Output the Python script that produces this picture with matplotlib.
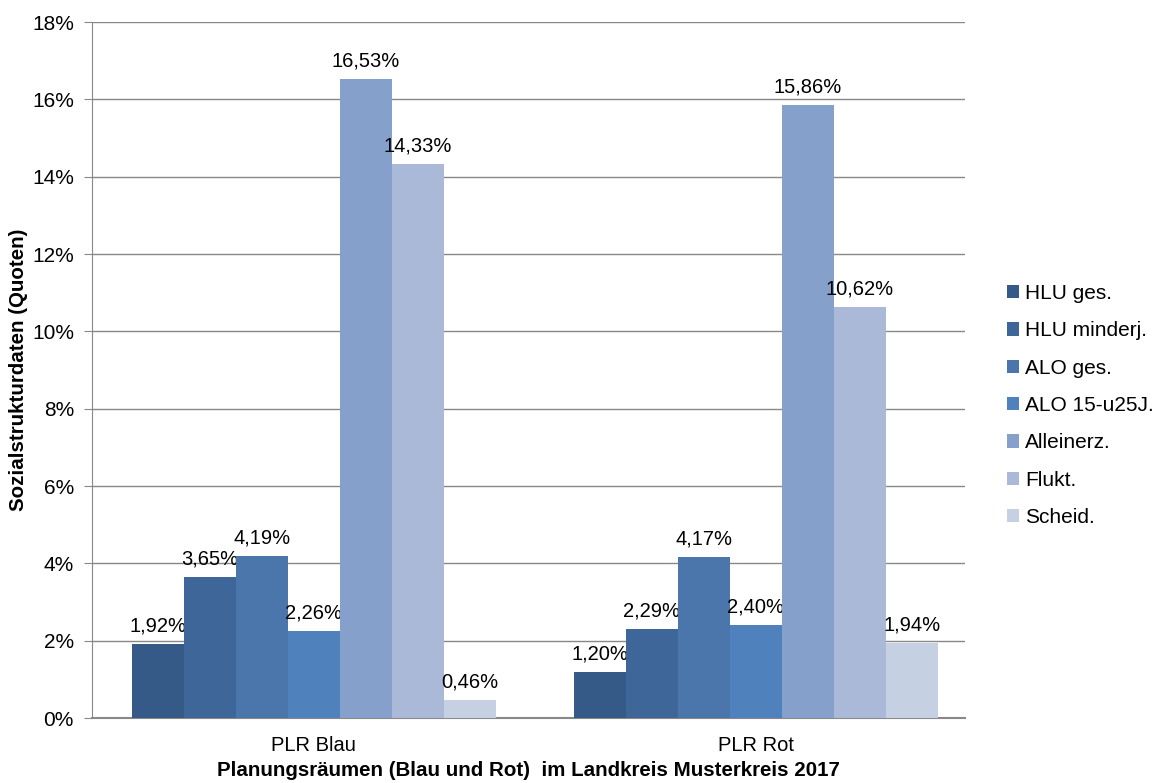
import numpy as np
import matplotlib.pyplot as plt
from matplotlib.ticker import FuncFormatter

plt.rcParams['font.family'] = ['Liberation Sans', 'DejaVu Sans']

# data
categories = ['PLR Blau', 'PLR Rot']
series = ['HLU ges.', 'HLU minderj.', 'ALO ges.', 'ALO 15-u25J.', 'Alleinerz.', 'Flukt.', 'Scheid.']
values = {
    'HLU ges.': [1.92, 1.20],
    'HLU minderj.': [3.65, 2.29],
    'ALO ges.': [4.19, 4.17],
    'ALO 15-u25J.': [2.26, 2.40],
    'Alleinerz.': [16.53, 15.86],
    'Flukt.': [14.33, 10.62],
    'Scheid.': [0.46, 1.94],
}
colors = ['#355A87', '#3E6699', '#4A76AC', '#4F81BD', '#85A0CB', '#AAB9D7', '#C5D0E3']

fig = plt.figure(figsize=(11.64, 7.83), dpi=100)
ax = fig.add_axes([92 / 1164, 1 - 718 / 783, 873 / 1164, 696 / 783])

x = np.arange(len(categories))
group_w = 0.824
width = group_w / len(series)

for i, (name, col) in enumerate(zip(series, colors)):
    pos = x - group_w / 2 + width * (i + 0.5)
    ax.bar(pos, values[name], width=width, color=col, label=name, zorder=3)
    for px, v in zip(pos, values[name]):
        ax.text(px, v + 0.22, f"{v:.2f}%".replace('.', ','), ha='center', va='bottom', fontsize=14.5)

ax.set_xlim(-0.502, 1.473)
ax.set_ylim(0, 18)
ax.set_yticks(np.arange(0, 19, 2))
ax.yaxis.set_major_formatter(FuncFormatter(lambda v, p: f"{v:.0f}%"))
ax.set_xticks(x)
ax.set_xticklabels(categories)
ax.tick_params(axis='x', length=0, labelsize=14.5, pad=13)
ax.tick_params(axis='y', labelsize=15, length=6, color='#888888', direction='out', pad=7)
ax.grid(axis='y', color='#888888', linewidth=1, zorder=0)

for s in ['top', 'right']:
    ax.spines[s].set_visible(False)
ax.spines['left'].set_color('#888888')
ax.spines['bottom'].set_color('#888888')
ax.spines['bottom'].set_linewidth(1.5)

ax.set_ylabel('Sozialstrukturdaten (Quoten)', fontsize=14.8, fontweight='bold', labelpad=3)
ax.set_xlabel('Planungsräumen (Blau und Rot)  im Landkreis Musterkreis 2017', fontsize=14.8,
              fontweight='bold', labelpad=4)

leg = ax.legend(loc='center left', bbox_to_anchor=(1.0, 0.449), frameon=False, fontsize=15,
                handlelength=0.6, handleheight=0.6, handletextpad=0.3, labelspacing=0.88,
                borderaxespad=1.6)

plt.savefig('out.png', dpi=100)
